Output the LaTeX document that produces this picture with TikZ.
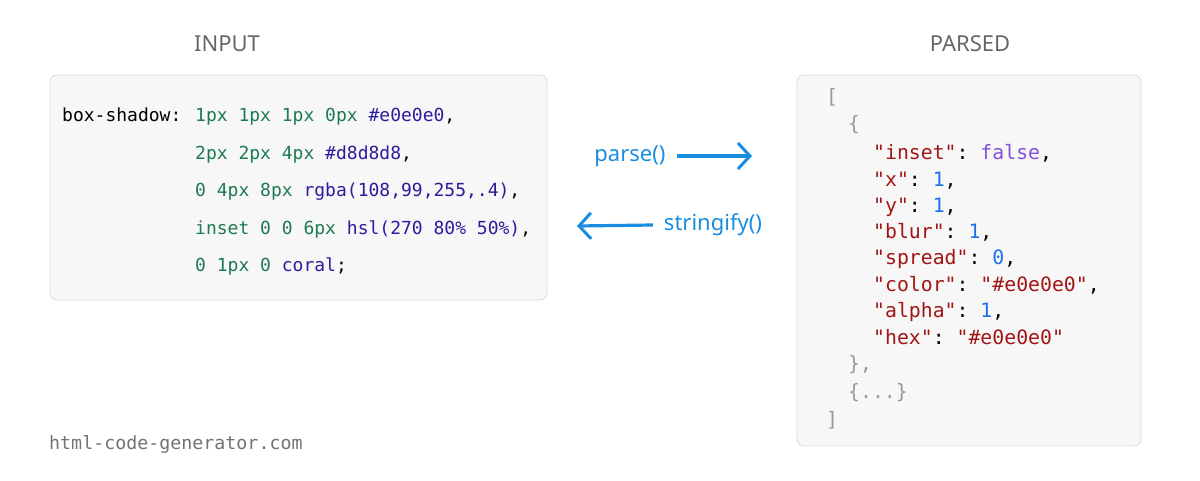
\documentclass[tikz,border=0pt]{standalone}
\usepackage{fontspec}
\setmainfont{Noto Sans}
\setmonofont{DejaVu Sans Mono}
\usetikzlibrary{arrows.meta}
\definecolor{Grn}{HTML}{1E7A52}
\definecolor{Nav}{HTML}{2B1D9C}
\definecolor{Rd}{HTML}{A31515}
\definecolor{Pur}{HTML}{8250DF}
\definecolor{Num}{HTML}{1A73E8}
\definecolor{Gry}{HTML}{999999}
\definecolor{Arw}{HTML}{1A8DE0}
\newcommand{\Ke}[1]{\textcolor{Rd}{#1}}
\newcommand{\Pu}[1]{\textcolor{Gry}{#1}}

\begin{document}
\begin{tikzpicture}[x=1pt,y=-1pt,
  box/.style={draw=black!14, fill=black!3, rounded corners=7pt, line width=0.8pt},
  code/.style={anchor=base west, inner sep=0pt, font=\fontsize{18}{21}\ttfamily},
  json/.style={anchor=base west, inner sep=0pt, font=\fontsize{19.8}{23}\ttfamily},
  head/.style={font=\fontsize{22}{26}\selectfont, text=black!60},
  lbl/.style={font=\fontsize{22}{26}\selectfont, text=Arw, inner sep=0pt},
  flow/.style={-{Straight Barb[length=12pt,width=26pt,line width=3pt]}, line width=3.2pt, Arw}]
  \useasboundingbox (0,0) rectangle (1200,480);
        % titles
        \node[head] (hIn) at (227,44) {INPUT};
        \node[head] (hOut) at (970,44) {PARSED};
        \draw[box] (50,75) rectangle (547,300);
        \draw[box] (797,75) rectangle (1141,446);

        % css input
        \node[code] (c0) at (62,121) {box-shadow:};
        \node[code] (c1) at (195,121) {\textcolor{Grn}{1px 1px 1px 0px} \textcolor{Nav}{\#e0e0e0},};
        \node[code] (c2) at (195,159) {\textcolor{Grn}{2px 2px 4px} \textcolor{Nav}{\#d8d8d8},};
        \node[code] (c3) at (195,196) {\textcolor{Grn}{0 4px 8px} \textcolor{Nav}{rgba(108,99,255,.4)},};
        \node[code] (c4) at (195,234) {\textcolor{Grn}{inset 0 0 6px} \textcolor{Nav}{hsl(270 80\% 50\%)},};
        \node[code] (c5) at (195,271) {\textcolor{Grn}{0 1px 0} \textcolor{Nav}{coral};};

        % json output
        \node[json] (j0) at (826,103) {\Pu{[}};
        \node[json] (j1) at (848,130) {\Pu{\{}};
        \node[json] (j2) at (873,159) {\Ke{"inset"}: \textcolor{Pur}{false},};
        \node[json] (j3) at (873,186) {\Ke{"x"}: \textcolor{Num}{1},};
        \node[json] (j4) at (873,212) {\Ke{"y"}: \textcolor{Num}{1},};
        \node[json] (j5) at (873,238) {\Ke{"blur"}: \textcolor{Num}{1},};
        \node[json] (j6) at (873,264) {\Ke{"spread"}: \textcolor{Num}{0},};
        \node[json] (j7) at (873,291) {\Ke{"color"}: \Ke{"\#e0e0e0"},};
        \node[json] (j8) at (873,317) {\Ke{"alpha"}: \textcolor{Num}{1},};
        \node[json] (j9) at (873,344) {\Ke{"hex"}: \Ke{"\#e0e0e0"}};
        \node[json] (j10) at (848,370) {\Pu{\},}};
        \node[json] (j11) at (848,398) {\Pu{\{...\}}};
        \node[json] (j12) at (826,426) {\Pu{]}};

        % arrows
        \node[lbl] (parse) at (630,156) {parse()};
        \node[lbl] (strfy) at (713,225) {stringify()};
        \coordinate (pEnd) at (752,156);
        \coordinate (sEnd) at (577,226);
        \draw[flow] ([xshift=11pt]parse.east) -- (pEnd);
        \draw[flow] ([xshift=-11pt]strfy.west) -- (sEnd);

        \node[anchor=base west, inner sep=0pt, font=\fontsize{18.3}{22}\ttfamily, text=black!55] (site) at (49,449) {html-code-generator.com};
\end{tikzpicture}
\end{document}
